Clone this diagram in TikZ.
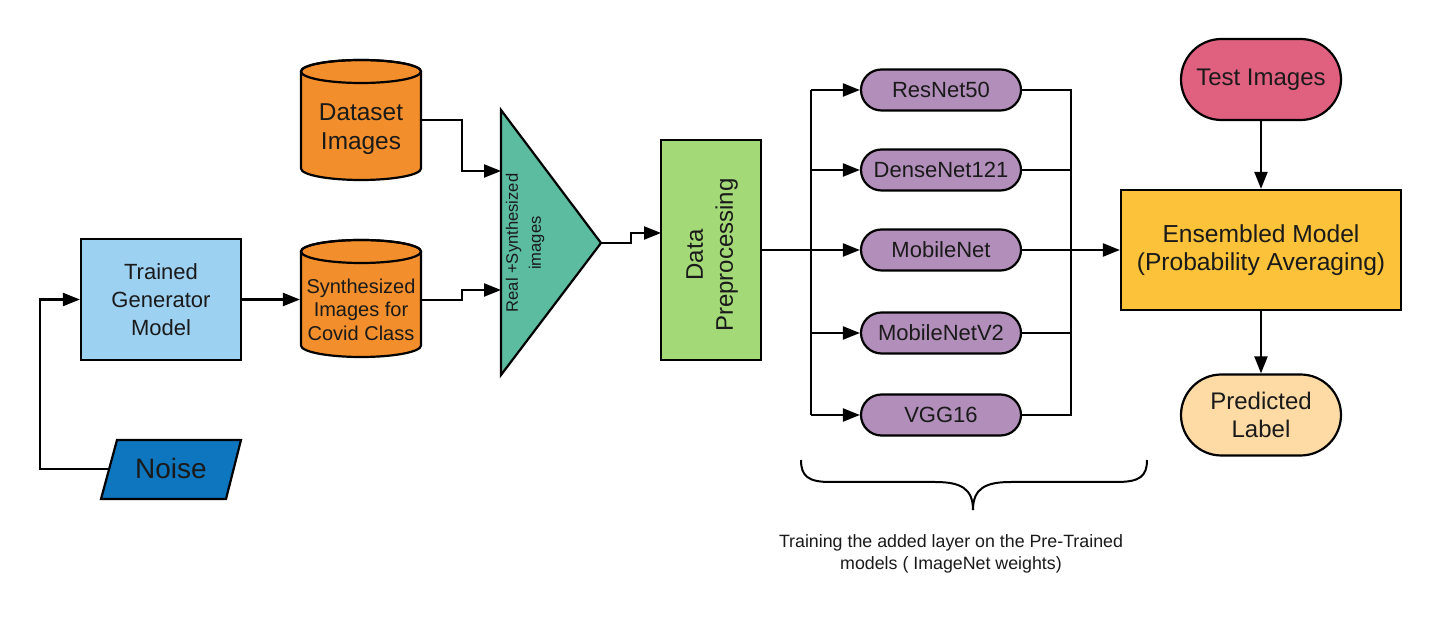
\documentclass[tikz,border=0pt]{standalone}
\usepackage{fontspec}
\setmainfont{Liberation Sans}
\usetikzlibrary{arrows.meta,shapes.misc}
\definecolor{cylorange}{HTML}{F28E2B}
\definecolor{triteal}{HTML}{5BBCA0}
\definecolor{dpgreen}{HTML}{A4D978}
\definecolor{netpurple}{HTML}{B28EBA}
\definecolor{genblue}{HTML}{9DD1F2}
\definecolor{noiseblue}{HTML}{0D76BE}
\definecolor{testpink}{HTML}{E06080}
\definecolor{ensgold}{HTML}{FBC23A}
\definecolor{predpeach}{HTML}{FEDAA5}
\definecolor{txt}{HTML}{1A1A1A}
\begin{document}
\begin{tikzpicture}[x=0.5pt,y=-0.5pt,line width=1.1pt,
  arr/.style={-{Triangle[length=8.5pt,width=6.5pt]}},
  plainbox/.style={draw,rectangle,inner sep=0pt,align=center,text=txt},
  netbox/.style={draw,rounded rectangle,fill=netpurple,minimum width=80pt,minimum height=20.5pt,inner sep=0pt,text=txt,font=\fontsize{11}{13}\selectfont},
  cyltext/.style={inner sep=0pt,align=center,text=txt,minimum width=60pt},
  termbox/.style={draw,rounded rectangle,minimum width=80pt,minimum height=40.5pt,inner sep=0pt,align=center,text=txt,font=\fontsize{12}{14}\selectfont}]
\useasboundingbox (0,0) rectangle (1441,635);
\fill[white] (0,0) rectangle (1441,635);

% Trained generator
\node[plainbox,fill=genblue,minimum width=80pt,minimum height=60.5pt,font=\fontsize{11}{14}\selectfont] (gen) at (161,299.5) {Trained\\Generator\\Model};

% Noise parallelogram
\filldraw[fill=noiseblue] (117,440) -- (241,440) -- (226,499) -- (101,499) -- cycle;
\node[inner sep=0pt,text=txt,font=\fontsize{14}{16}\selectfont] (noise) at (171,468) {Noise};
\coordinate (noiseL) at (109,469);

% Dataset cylinder
\filldraw[fill=cylorange] (301,71.5) -- (301,168.5) arc[start angle=180,end angle=360,x radius=30pt,y radius=5.75pt] -- (421,71.5) arc[start angle=0,end angle=180,x radius=30pt,y radius=5.75pt] -- cycle;
\draw (361,71.5) ellipse [x radius=30pt,y radius=5.75pt];
\node[cyltext,minimum height=60pt,font=\fontsize{12.2}{14.5}\selectfont] (ds) at (361,129.5) {Dataset\\Images};

% Synthesized cylinder
\filldraw[fill=cylorange] (301,251.5) -- (301,345.5) arc[start angle=180,end angle=360,x radius=30pt,y radius=5.75pt] -- (421,251.5) arc[start angle=0,end angle=180,x radius=30pt,y radius=5.75pt] -- cycle;
\draw (361,251.5) ellipse [x radius=30pt,y radius=5.75pt];
\node[cyltext,minimum height=58pt,font=\fontsize{10}{11.75}\selectfont] (syn) at (361,309.5) {Synthesized\\Images for\\Covid Class};

% Triangle
\filldraw[fill=triteal] (501,110) -- (601,243) -- (501,375) -- cycle;
\node[rotate=90,inner sep=0pt,align=center,text=txt,font=\fontsize{8.3}{11.5}\selectfont] (tri) at (525,243) {Real +Synthesized\\images};
\coordinate (triIn1) at (501,171);
\coordinate (triIn2) at (501,290);
\coordinate (triOut) at (601,243);

% Data preprocessing
\node[plainbox,fill=dpgreen,minimum width=50pt,minimum height=110pt] (dp) at (711,250) {};
\node[rotate=90,inner sep=0pt,align=center,text=txt,font=\fontsize{12}{15}\selectfont] (dplabel) at (712,255) {Data\\Preprocessing};
\coordinate (dpIn) at (661,233);

% Networks
\node[netbox] (res) at (941,90) {ResNet50};
\node[netbox] (dense) at (941,170) {DenseNet121};
\node[netbox] (mob) at (941,250) {MobileNet};
\node[netbox] (mob2) at (941,333) {MobileNetV2};
\node[netbox] (vgg) at (941,415) {VGG16};
\coordinate (busL) at (811,250);
\coordinate (busR) at (1071,250);

% Ensemble, test, predicted
\node[plainbox,fill=ensgold,minimum width=140pt,minimum height=60pt,font=\fontsize{12.3}{14}\selectfont] (ens) at (1261,250) {Ensembled Model\\(Probability Averaging)};
\node[termbox,fill=testpink] (test) at (1261,79.5) {Test Images};
\node[termbox,fill=predpeach] (pred) at (1261,415) {Predicted\\Label};

% Connectors
\draw[arr] (noiseL) -- ++(-69,0) |- (gen.west);
\draw[arr] (gen.east) -- (gen.east -| syn.west);
\draw[arr] ([yshift=4.75pt]ds.east) -- ++(40,0) |- (triIn1);
\draw[arr] ([yshift=4.75pt]syn.east) -- ++(40,0) |- (triIn2);
\draw[arr] (triOut) -- ++(30,0) |- (dpIn);
\draw (dp.east) -- (busL);
\draw (busL |- res) -- (busL |- vgg);
\draw[arr] (busL |- res) -- (res.west);
\draw[arr] (busL |- dense) -- (dense.west);
\draw[arr] (busL) -- (mob.west);
\draw[arr] (busL |- mob2) -- (mob2.west);
\draw[arr] (busL |- vgg) -- (vgg.west);
\draw (res.east) -- (busR |- res) -- (busR |- vgg) -- (vgg.east);
\draw (dense.east) -- (busR |- dense);
\draw (mob2.east) -- (busR |- mob2);
\draw[arr] (mob.east) -- (ens.west);
\draw[arr] (test.south) -- (ens.north);
\draw[arr] (ens.south) -- (pred.north);

% Brace
\draw[line width=1pt] (801,460) .. controls (801,476) and (808,482) .. (830,482) -- (935,482) .. controls (960,482) and (973,488) .. (973,510);
\draw[line width=1pt] (1147,460) .. controls (1147,476) and (1140,482) .. (1117,482) -- (1011,482) .. controls (986,482) and (973,488) .. (973,510);
\node[inner sep=0pt,align=center,text=txt,font=\fontsize{8.9}{11}\selectfont] (bracetext) at (951,554) {Training the added layer on the Pre-Trained\\models ( ImageNet weights)};
\end{tikzpicture}
\end{document}
